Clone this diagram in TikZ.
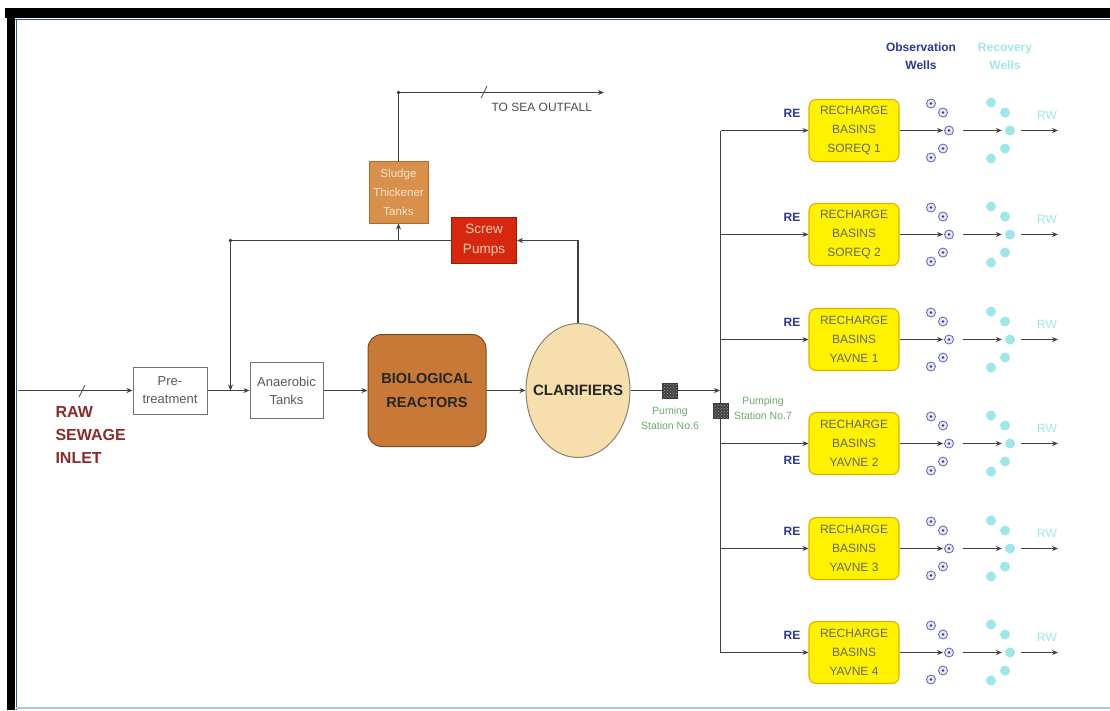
\documentclass[tikz,border=0pt]{standalone}
\usepackage{fontspec}
\setmainfont{Liberation Sans}
\usetikzlibrary{arrows.meta,patterns,shapes.geometric}
\definecolor{navy}{HTML}{2B3990}
\definecolor{cyanl}{HTML}{9EE6EA}
\definecolor{greenl}{HTML}{6AA86A}
\definecolor{rawred}{HTML}{8B2B2B}
\definecolor{basinfill}{HTML}{FFF200}
\definecolor{basinline}{HTML}{E0B000}
\definecolor{biofill}{HTML}{C87837}
\definecolor{bioline}{HTML}{7A4A20}
\definecolor{sludgefill}{HTML}{D8904A}
\definecolor{sludgeline}{HTML}{B06A2A}
\definecolor{sludgetext}{HTML}{F8E4CC}
\definecolor{screwfill}{HTML}{D6280F}
\definecolor{screwline}{HTML}{9A1A08}
\definecolor{screwtext}{HTML}{F6C9B5}
\definecolor{clarfill}{HTML}{F6DFAC}
\definecolor{clarline}{HTML}{8A8070}
\definecolor{frameblue}{HTML}{3050A0}
\definecolor{framelight}{HTML}{B0C4E0}
\definecolor{owfill}{HTML}{E8E8F8}
\definecolor{owline}{HTML}{6060B0}
\begin{document}
\begin{tikzpicture}[x=1pt,y=-1pt,
  flow/.style={draw=black!75, line width=1.4pt},
  arr/.style={flow,-{Stealth[length=6pt,width=5pt]}},
  whitebox/.style={draw=black!55, line width=1pt, fill=white, text=black!65, align=center, inner sep=0pt, font=\fontsize{13}{18}\selectfont},
  biobox/.style={draw=bioline, line width=1pt, fill=biofill, rounded corners=14pt, align=center, inner sep=0pt, font=\bfseries\fontsize{14.5}{24}\selectfont, text=black!85},
  clarbox/.style={ellipse, draw=clarline, line width=1pt, fill=clarfill, inner sep=0pt},
  clartext/.style={font=\bfseries\fontsize{15}{16}\selectfont, text=black!85, inner sep=0pt},
  screwbox/.style={draw=screwline, line width=0.9pt, fill=screwfill, align=center, inner sep=0pt, text=screwtext, font=\fontsize{13.5}{20}\selectfont},
  sludgebox/.style={draw=sludgeline, line width=0.9pt, fill=sludgefill, align=center, inner sep=0pt, text=sludgetext, font=\fontsize{11.5}{19}\selectfont},
  basinbox/.style={draw=basinline, line width=1.1pt, fill=basinfill, rounded corners=7pt, align=center, inner sep=0pt, minimum width=90pt, minimum height=62pt, text=black!60, font=\fontsize{12}{19}\selectfont},
  psbox/.style={draw=black!80, fill=black!75, minimum width=15pt, minimum height=15pt, inner sep=0pt, postaction={pattern=crosshatch dots, pattern color=black!35}},
  pslabel/.style={text=greenl, align=center, font=\fontsize{10.5}{15}\selectfont},
  relabel/.style={text=navy, font=\bfseries\fontsize{12}{14}\selectfont},
  rwlabel/.style={text=cyanl, font=\fontsize{12}{14}\selectfont},
  obswell/.style={circle, draw=owline, fill=owfill, line width=0.8pt, minimum size=9pt, inner sep=0pt, path picture={\fill[navy] (path picture bounding box.center) circle (1.3pt);}},
  recwell/.style={circle, fill=cyanl, minimum size=10pt, inner sep=0pt},
  slash/.style={draw=black!65, line width=0.9pt}
]
\useasboundingbox (0,0) rectangle (1110,710);
\fill[white] (0,0) rectangle (1110,710);
% frame
\fill[black] (5,8) rectangle (1110,18);
\fill[black] (7,8) rectangle (15,710);
\draw[frameblue, line width=1pt] (15,19) -- (1110,19);
\draw[frameblue, line width=1pt] (16,19) -- (16,710);
\draw[framelight, line width=1.5pt] (16,708) -- (1110,708);

% main process nodes
\node[whitebox, minimum width=74pt, minimum height=47pt] (pre) at (170,390.5) {Pre-\\treatment};
\node[whitebox, minimum width=73pt, minimum height=56pt] (ana) at (286.5,390.5) {Anaerobic\\Tanks};
\node[biobox, minimum width=118pt, minimum height=112pt] (bio) at (427,390.5) {BIOLOGICAL\\REACTORS};
\node[clarbox, minimum width=104pt, minimum height=134pt] (clar) at (578,390.5) {};
\node[clartext] (clartxt) at (clar.center) {CLARIFIERS};
\node[screwbox, minimum width=65pt, minimum height=46pt] (screw) at (484,240.5) {Screw\\Pumps};
\node[sludgebox, minimum width=59pt, minimum height=62pt] (sludge) at (398.5,192) {Sludge\\Thickener\\Tanks};
\node[psbox] (ps6) at (670,390.5) {};
\node[psbox] (ps7) at (720.5,411) {};

% texts
\node[anchor=west, align=left, text=rawred, font=\bfseries\fontsize{16}{23}\selectfont] (raw) at (52,435) {RAW\\SEWAGE\\INLET};
\node[anchor=west, text=black!70, font=\fontsize{12}{14}\selectfont] (seatxt) at (488,107) {TO SEA OUTFALL};
\node[pslabel] (ps6lab) at (670,418) {Puming\\Station No.6};
\node[pslabel] (ps7lab) at (763,408) {Pumping\\Station No.7};
\node[text=navy, align=center, font=\bfseries\fontsize{12}{18}\selectfont] (obshead) at (921,56) {Observation\\Wells};
\node[text=cyanl, align=center, font=\bfseries\fontsize{12}{18}\selectfont] (rechead) at (1005,56) {Recovery\\Wells};

% coordinates
\coordinate (in) at (18,390.5);
\coordinate (j1) at (230.5,390.5);
\coordinate (t1) at (398.5,240.5);
\coordinate (sea) at (604,92.5);
\coordinate (c1) at (720,390.5);
\coordinate (vtop) at (720.5,130.5);
\coordinate (vbot) at (720.5,652.5);

% connectors
\draw[arr] (in) -- (pre.west);
\draw[arr] (pre.east) -- (ana.west);
\draw[arr] (ana.east) -- (bio.west);
\draw[arr] (bio.east) -- (clar.west);
\draw[arr] (clar.north) |- (screw.east);
\draw[arr] (screw.west) -| (j1);
\fill[black!80] (230.5,240.5) circle (1.9pt);
\draw[arr] (t1) -- (sludge.south);
\draw[arr] (sludge.north) |- (sea);
\fill[black!80] (398.5,92.5) circle (1.9pt);
\draw[flow] (clar.east) -- (ps6.west);
\draw[arr] (ps6.east) -- (c1);
\draw[flow] (vtop) -- (ps7.north);
\draw[flow] (ps7.south) -- (vbot);
% slashes
\draw[slash] (79,397) -- (85,385);
\draw[slash] (481,98) -- (487,86);

% basins
\foreach \i/\yc/\name/\relab in {1/130.5/SOREQ 1/-17, 2/234.5/SOREQ 2/-17, 3/339.5/YAVNE 1/-17, 4/443.5/YAVNE 2/17, 5/548.5/YAVNE 3/-17, 6/652.5/YAVNE 4/-17}{
  \node[basinbox] (b\i) at (854,\yc) {RECHARGE\\BASINS\\\name};
  \coordinate (br\i) at (720.5,\yc);
  \draw[arr] (br\i) -- (b\i.west);
  \node[relabel] (re\i) at (792,\yc+\relab) {RE};
  % observation wells
  \node[obswell] (owm\i) at (949,\yc) {};
  \node[obswell] (owa\i) at (943,\yc-18) {};
  \node[obswell] (owb\i) at (931,\yc-27) {};
  \node[obswell] (owc\i) at (943,\yc+18) {};
  \node[obswell] (owd\i) at (931,\yc+27) {};
  % recovery wells
  \node[recwell] (rwm\i) at (1010,\yc) {};
  \node[recwell] (rwa\i) at (1005,\yc-18) {};
  \node[recwell] (rwb\i) at (991,\yc-28) {};
  \node[recwell] (rwc\i) at (1005,\yc+18) {};
  \node[recwell] (rwd\i) at (991,\yc+28) {};
  \node[rwlabel] (rw\i) at (1047,\yc-15) {RW};
  \coordinate (out\i) at (1058,\yc);
  \draw[arr] (b\i.east) -- ([xshift=-1pt]owm\i.west);
  \draw[arr] ([xshift=9pt]owm\i.east) -- ([xshift=-3pt]rwm\i.west);
  \draw[arr] ([xshift=6pt]rwm\i.east) -- (out\i);
}
\end{tikzpicture}
\end{document}
